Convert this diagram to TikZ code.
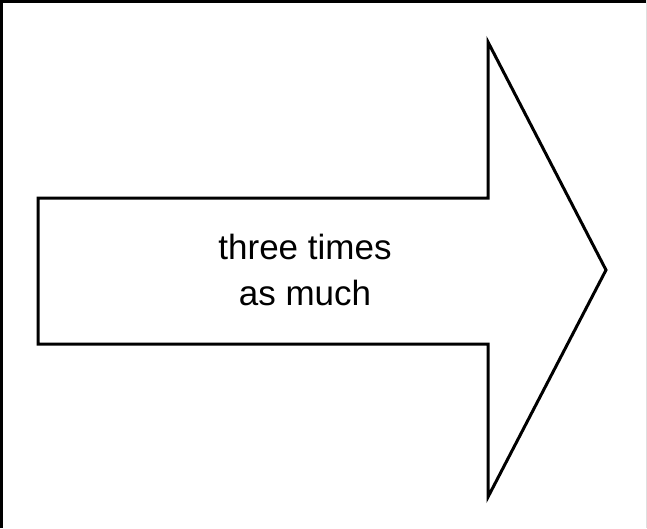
\documentclass[tikz,border=0pt]{standalone}
\usepackage{fontspec}
\setmainfont{Liberation Sans}
\begin{document}
\begin{tikzpicture}[x=1pt,y=-1pt,
  outline/.style={draw=black,line width=3pt,line join=miter,fill=white},
  label/.style={align=center,font=\fontsize{35}{46}\selectfont,inner sep=0pt}]
\useasboundingbox (0,0) rectangle (647,528);
\fill[white] (0,0) rectangle (647,528);
\draw[black,line width=3pt] (1.5,528) -- (1.5,1.5) -- (647,1.5);
\draw[gray!25,line width=1pt] (646,0) -- (646,528);
\coordinate (a1) at (38,198);
\coordinate (a2) at (488,198);
\coordinate (a3) at (488,42);
\coordinate (a4) at (606,270);
\coordinate (a5) at (488,497);
\coordinate (a6) at (488,344);
\coordinate (a7) at (38,344);
\draw[outline] (a1) -- (a2) -- (a3) -- (a4) -- (a5) -- (a6) -- (a7) -- cycle;
\node[label] (t) at (305,270) {three times\\as much};
\end{tikzpicture}
\end{document}
